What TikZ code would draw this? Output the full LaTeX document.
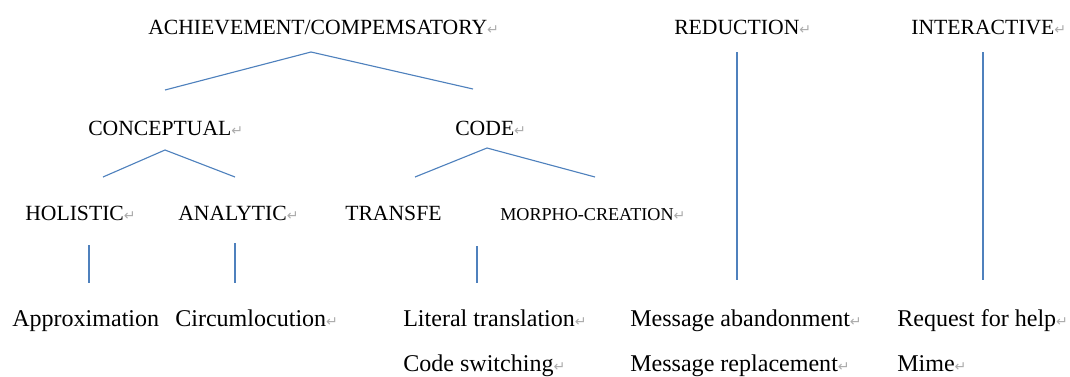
\documentclass[tikz,border=0pt]{standalone}
\usepackage{fontspec}
\setmainfont{Liberation Serif}
\newfontfamily\dejavu{DejaVu Sans}
\usetikzlibrary{positioning}
\definecolor{linkblue}{RGB}{79,129,189}
\newcommand{\pmark}{{\dejavu\fontsize{10}{10}\selectfont\color{gray!65}↵}}

\begin{document}
\begin{tikzpicture}[x=0.025cm, y=-0.025cm,
  cat/.style={anchor=base west, inner sep=0pt, font=\fontsize{15.4}{15.4}\selectfont},
  small/.style={anchor=base west, inner sep=0pt, font=\fontsize{12.9}{12.9}\selectfont},
  item/.style={anchor=base west, inner sep=0pt, font=\fontsize{17.1}{17.1}\selectfont},
  branch/.style={draw=linkblue, line width=0.8pt}]
\useasboundingbox (0,0) rectangle (1070,376);

% Categories
\node[cat] (achieve) at (148,34) {ACHIEVEMENT/COMPEMSATORY\pmark};
\node[cat] (reduction) at (674,34) {REDUCTION\pmark};
\node[cat] (interactive) at (911,34) {INTERACTIVE\pmark};
\node[cat] (conceptual) at (88,135) {CONCEPTUAL\pmark};
\node[cat] (code) at (455,135) {CODE\pmark};
\node[cat] (holistic) at (25,220) {HOLISTIC\pmark};
\node[cat] (analytic) at (178,220) {ANALYTIC\pmark};
\node[cat] (transfe) at (345,220) {TRANSFE};
\node[small] (morpho) at (500,220) {MORPHO-CREATION\pmark};

% Strategies
\node[item] (approx) at (12,326) {Approximation};
\node[item] (circum) at (175,326) {Circumlocution\pmark};
\node[item] (literal) at (403,326) {Literal translation\pmark};
\node[item] (switching) at (403,371) {Code switching\pmark};
\node[item] (abandon) at (630,326) {Message abandonment\pmark};
\node[item] (replace) at (630,371) {Message replacement\pmark};
\node[item] (help) at (897,326) {Request for help\pmark};
\node[item] (mime) at (897,371) {Mime\pmark};

% Line ends
\coordinate (achieve-s) at (311,52);
\coordinate (conceptual-n) at (165,90);
\coordinate (code-n) at (473,89);
\coordinate (conceptual-s) at (165,150);
\coordinate (holistic-n) at (103,177);
\coordinate (analytic-n) at (235,177);
\coordinate (code-s) at (487,148);
\coordinate (transfe-n) at (415,177);
\coordinate (morpho-n) at (595,177);
\coordinate (holistic-s) at (89,245);
\coordinate (approx-n) at (89,283);
\coordinate (analytic-s) at (235,243);
\coordinate (circum-n) at (235,283);
\coordinate (transfe-s) at (477,246);
\coordinate (literal-n) at (477,283);
\coordinate (reduction-s) at (737,52);
\coordinate (abandon-n) at (737,280);
\coordinate (interactive-s) at (983,52);
\coordinate (help-n) at (983,280);

% Lines
\draw[branch] (conceptual-n) -- (achieve-s) -- (code-n);
\draw[branch] (holistic-n) -- (conceptual-s) -- (analytic-n);
\draw[branch] (transfe-n) -- (code-s) -- (morpho-n);
\draw[branch] (holistic-s) -- (approx-n);
\draw[branch] (analytic-s) -- (circum-n);
\draw[branch] (transfe-s) -- (literal-n);
\draw[branch] (reduction-s) -- (abandon-n);
\draw[branch] (interactive-s) -- (help-n);
\end{tikzpicture}
\end{document}
